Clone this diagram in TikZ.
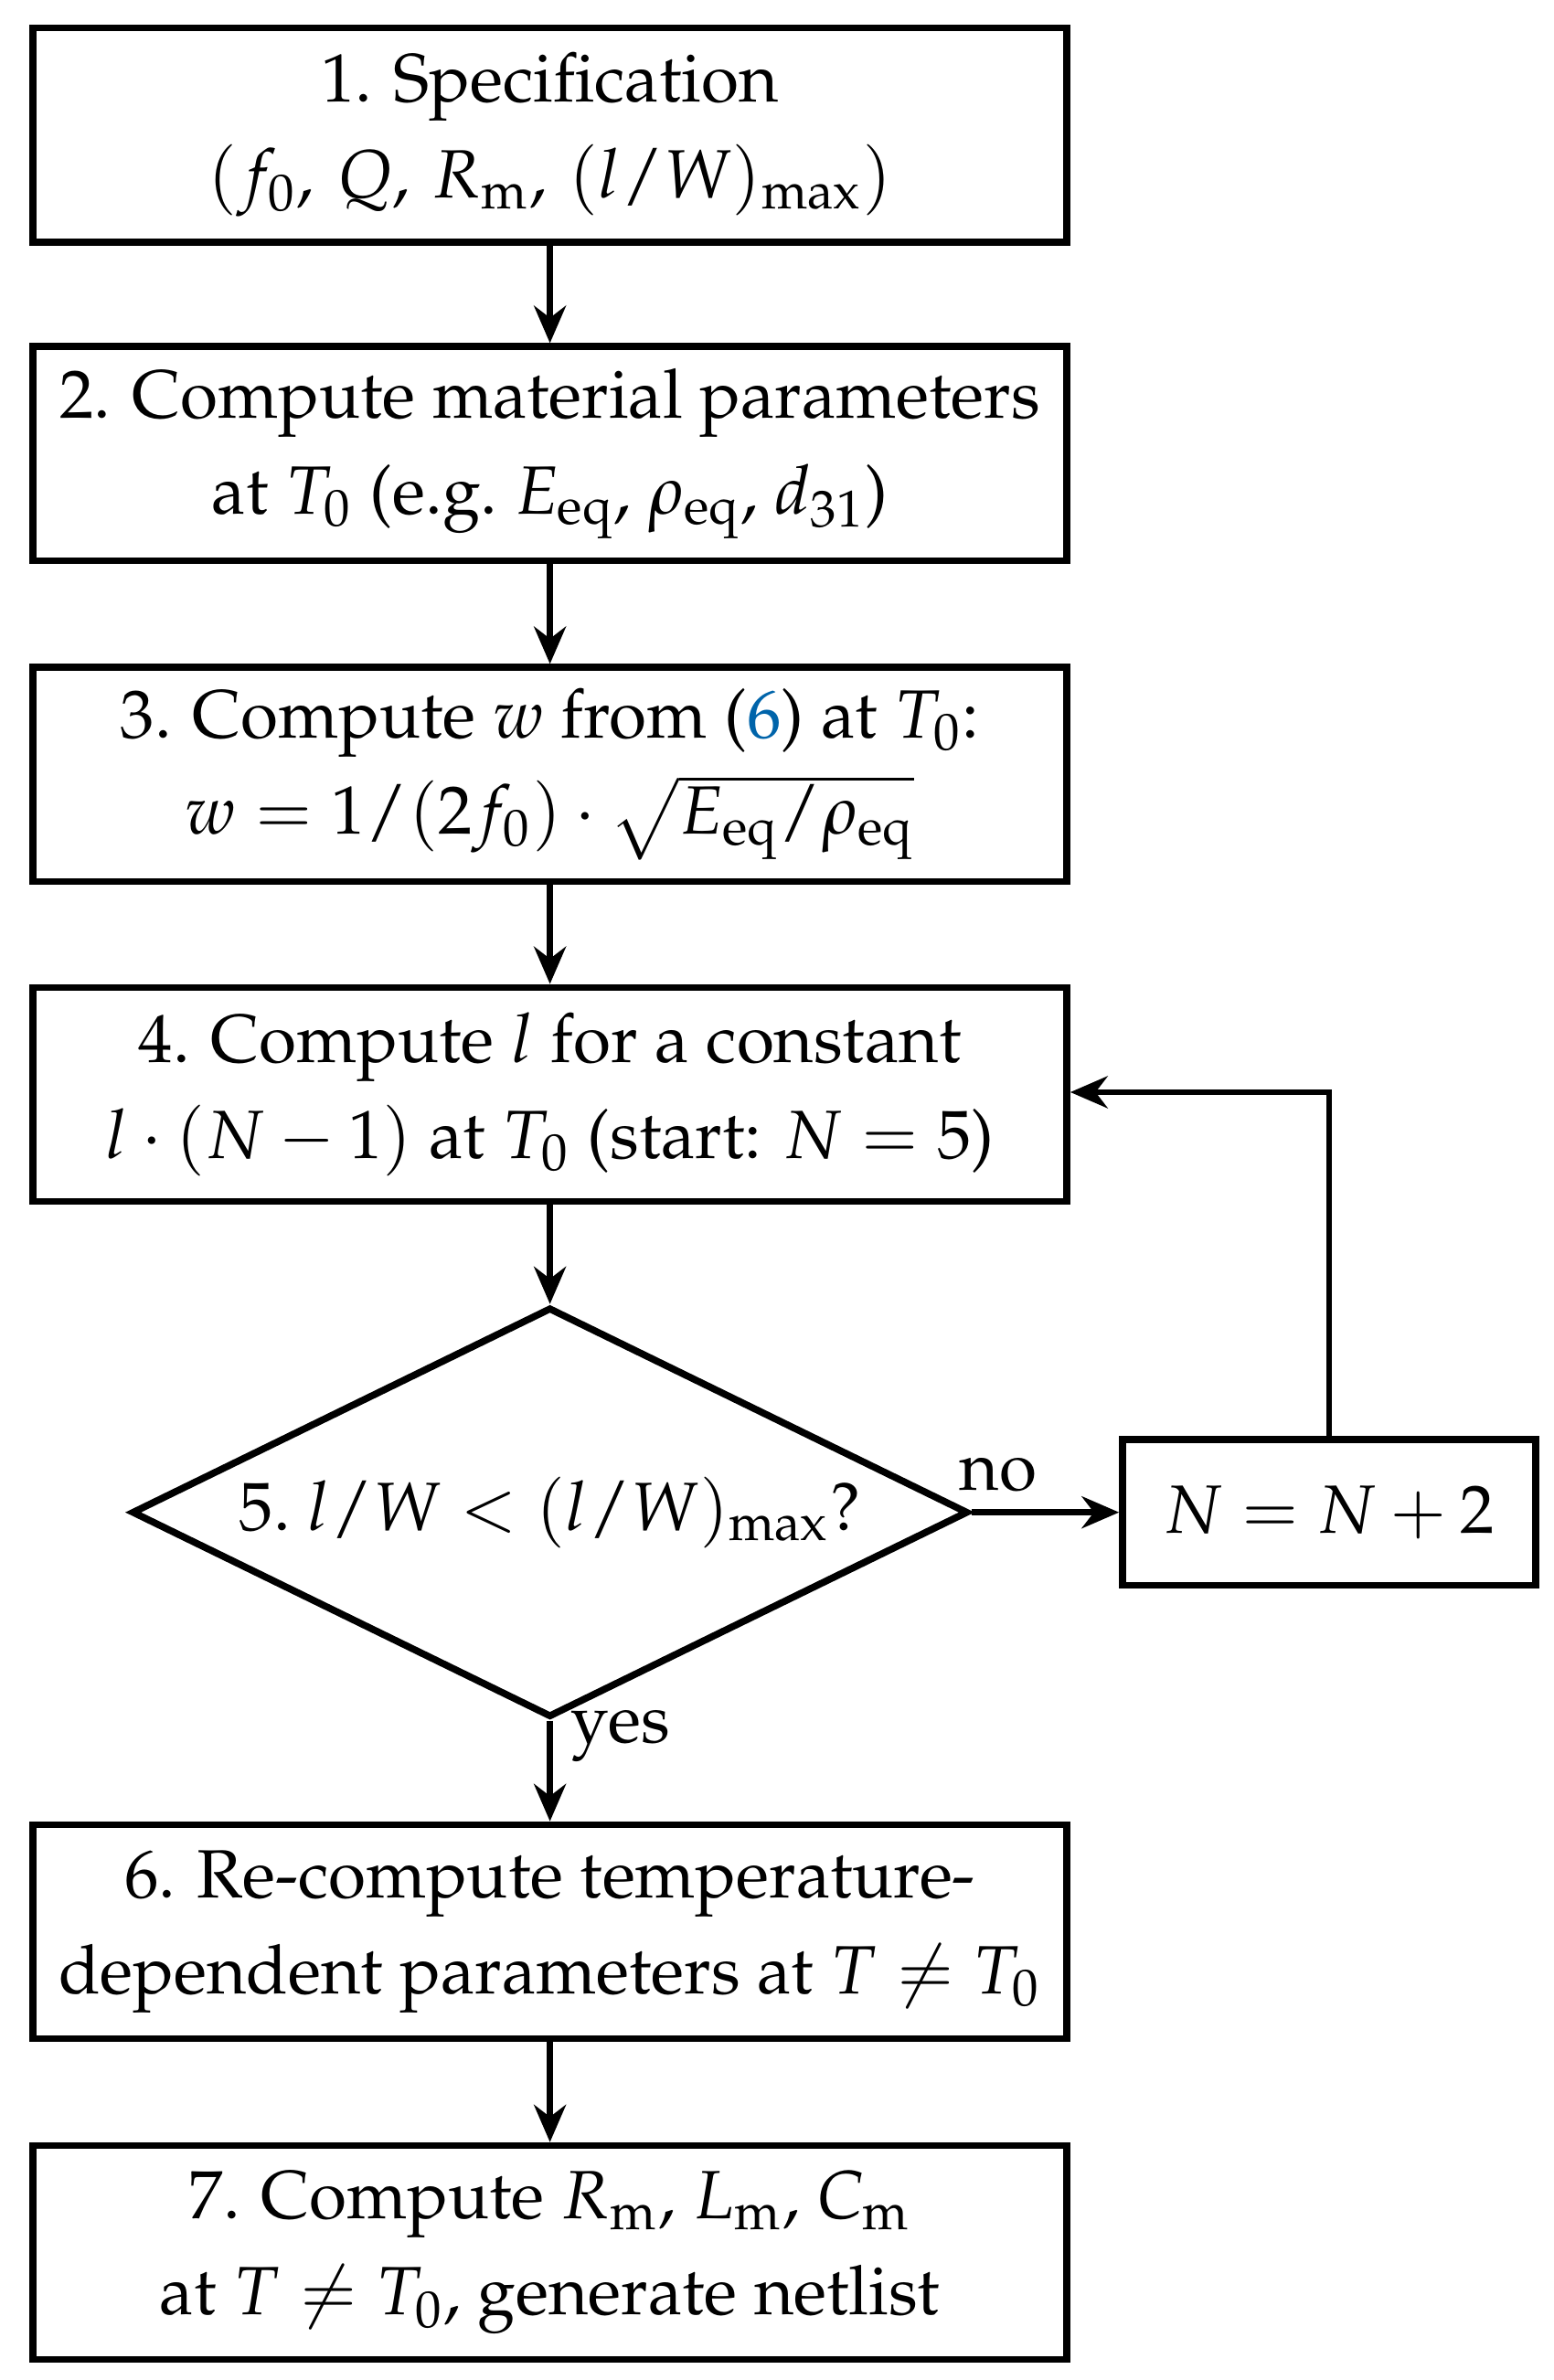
\documentclass[tikz,border=0pt]{standalone}
\usepackage[T1]{fontenc}
\usepackage{mathpazo}
\usetikzlibrary{shapes.geometric,arrows.meta}
\definecolor{linkblue}{RGB}{0,100,170}
\begin{document}
\begin{tikzpicture}[x=0.01cm,y=-0.01cm,
  every node/.style={font=\fontencoding{T1}\fontfamily{ppl}\fontsize{12.8}{18}\selectfont},
  box/.style={draw,line width=1.3pt,minimum width=6.81cm,minimum height=1.41cm,align=center,inner sep=0pt},
  arr/.style={line width=1.1pt,-{Stealth[length=7pt,width=6pt]}}]
\useasboundingbox (0,0) rectangle (1024,1569);
\node[box] (b1) at (362.5,89) {1. Specification\\$(f_0,\,Q,\,R_\mathrm{m},\,(l/W)_\mathrm{max})$};
\node[box] (b2) at (362.5,299) {2. Compute material parameters\\at $T_0$ (e.g.\ $E_\mathrm{eq}$, $\rho_\mathrm{eq}$, $d_{31}$)};
\node[box] (b3) at (362.5,510.5) {3. Compute $w$ from (\textcolor{linkblue}{6}) at $T_0$:\\$w=1/(2f_0)\cdot\sqrt{E_\mathrm{eq}/\rho_\mathrm{eq}}$};
\node[box] (b4) at (362.5,721.5) {4. Compute $l$ for a constant\\$l\cdot(N-1)$ at $T_0$ (start: $N=5$)};
\node[draw,line width=1.3pt,diamond,aspect=2.04,minimum width=5.51cm,minimum height=2.7cm,inner sep=0pt] (d5) at (362.5,997) {};
\node at (362.5,997) {5.~$l/W<(l/W)_\mathrm{max}$?};
\node[box,minimum width=2.72cm,minimum height=0.96cm] (bn) at (876,997) {$N=N+2$};
\node[box] (b6) at (362.5,1273.5) {6. Re-compute temperature-\\dependent parameters at $T\neq T_0$};
\node[box] (b7) at (362.5,1485) {7. Compute $R_\mathrm{m}$, $L_\mathrm{m}$, $C_\mathrm{m}$\\at $T\neq T_0$, generate netlist};
\draw[arr] (b1) -- (b2);
\draw[arr] (b2) -- (b3);
\draw[arr] (b3) -- (b4);
\draw[arr] (b4) -- (d5.north);
\draw[arr] (d5.east) -- node[above,pos=0.18] {no} (bn.west);
\draw[arr] (d5.south) -- node[right,pos=0.15] {yes} (b6.north);
\coordinate (c) at (876,720);
\draw[arr] (bn.north) -- (c) -- (b4.east |- c);
\draw[arr] (b6) -- (b7);
\end{tikzpicture}
\end{document}
